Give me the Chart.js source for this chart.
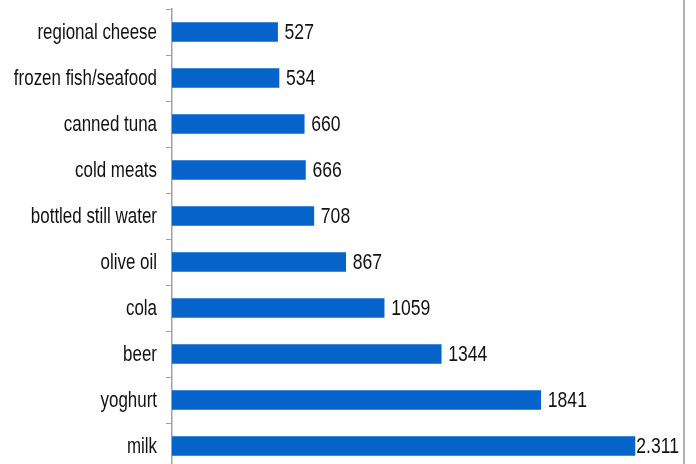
<!DOCTYPE html>
<html>
<head>
<meta charset="utf-8">
<script src="https://cdn.jsdelivr.net/npm/chart.js@4/dist/chart.umd.min.js"></script>
<style>
  html, body { margin: 0; padding: 0; background: #fff; overflow: hidden; }
  #wrap { width: 696px; height: 464px; overflow: hidden; position: relative; }
  canvas { display: block; }
</style>
</head>
<body>
<div id="wrap"><canvas id="c" width="696" height="480"></canvas></div>
<script>
const categories = ["regional cheese", "frozen fish/seafood", "canned tuna", "cold meats", "bottled still water", "olive oil", "cola", "beer", "yoghurt", "milk"];
const values = [527, 534, 660, 666, 708, 867, 1059, 1344, 1841, 2311];
const valueLabels = ["527", "534", "660", "666", "708", "867", "1059", "1344", "1841", "2.311"];

const FONT = "'Liberation Sans', Arial, sans-serif";
const NARROW_CAT = 0.77;
const NARROW_VAL = 0.8;

// Category labels drawn condensed (Arial Narrow look) at the y scale's tick positions
const categoryLabelPlugin = {
  id: 'categoryLabels',
  afterDraw(chart) {
    const ctx = chart.ctx;
    const yScale = chart.scales.y;
    const xRight = yScale.right - 6 - 9;
    ctx.save();
    ctx.font = "22px " + FONT;
    ctx.fillStyle = "#111111";
    ctx.textBaseline = "middle";
    ctx.textAlign = "right";
    categories.forEach((lab, i) => {
      const y = yScale.getPixelForTick(i);
      ctx.save();
      ctx.translate(xRight, y + 1);
      ctx.scale(NARROW_CAT, 1);
      ctx.fillText(lab, 0, 0);
      ctx.restore();
    });
    ctx.restore();
  }
};

const valueLabelPlugin = {
  id: 'valueLabels',
  afterDatasetsDraw(chart) {
    const ctx = chart.ctx;
    const meta = chart.getDatasetMeta(0);
    const area = chart.chartArea;
    ctx.save();
    ctx.font = "22px " + FONT;
    ctx.fillStyle = "#111111";
    ctx.textBaseline = "middle";
    ctx.textAlign = "left";
    meta.data.forEach((bar, i) => {
      const txt = valueLabels[i];
      const w = ctx.measureText(txt).width * NARROW_VAL;
      const x = Math.min(bar.x + 7, area.right - 5 - w);
      ctx.save();
      ctx.translate(x, bar.y + 1);
      ctx.scale(NARROW_VAL, 1);
      ctx.fillText(txt, 0, 0);
      ctx.restore();
    });
    ctx.restore();
  }
};

const frameLinePlugin = {
  id: 'frameLine',
  afterDraw(chart) {
    const ctx = chart.ctx;
    ctx.save();
    ctx.strokeStyle = "#9a9a9a";
    ctx.lineWidth = 1.5;
    ctx.beginPath();
    ctx.moveTo(684, 0);
    ctx.lineTo(684, chart.height);
    ctx.stroke();
    ctx.restore();
  }
};

new Chart(document.getElementById('c'), {
  type: 'bar',
  data: {
    labels: categories,
    datasets: [{
      data: values,
      backgroundColor: '#0563C9',
      borderWidth: 0,
      barThickness: 19
    }]
  },
  options: {
    indexAxis: 'y',
    responsive: false,
    animation: false,
    devicePixelRatio: 1,
    layout: { padding: { top: 9, bottom: 11, left: 0, right: 12 } },
    plugins: { legend: { display: false }, tooltip: { enabled: false } },
    scales: {
      x: { display: false, min: 0, max: 2556 },
      y: {
        afterFit(scale) { scale.width = 172; scale.paddingTop = 0; scale.paddingBottom = 0; },
        grid: { drawOnChartArea: false, tickLength: 6, color: '#a0a0a0', offset: true },
        border: { color: '#a0a0a0', width: 1.5 },
        ticks: { display: false }
      }
    }
  },
  plugins: [valueLabelPlugin, categoryLabelPlugin, frameLinePlugin]
});
</script>
</body>
</html>
